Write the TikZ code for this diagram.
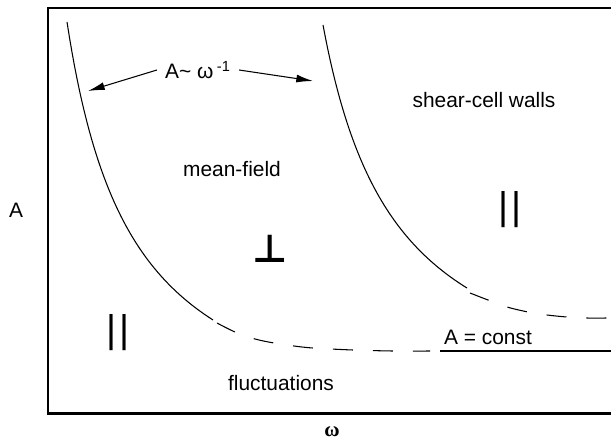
\documentclass[tikz,border=0pt]{standalone}
\usepackage{fontspec}
\setmainfont{Liberation Sans}
\newfontfamily\symfont{DejaVu Sans}
\newfontfamily\greekfont{Liberation Serif}
\usetikzlibrary{arrows.meta}

\begin{document}
\begin{tikzpicture}[
  x=0.02cm, y=-0.02cm,
  >={Latex[length=9.5pt,width=4.5pt]},
  annot/.style={font=\fontsize{11.9}{14}\selectfont,inner sep=0pt},
  orient/.style={font=\fontsize{22}{22}\selectfont,inner sep=0pt},
  frameline/.style={line width=1.7pt},
  curve/.style={line width=0.6pt},
  dashcurve/.style={line width=0.6pt,dash pattern=on 0.4cm off 0.4cm},
]

% page size of the reference
\useasboundingbox (0,0) rectangle (611,443);

% ---------------- frame (open on the right) ----------------
\draw[frameline] (611,8) -- (48,8) -- (48,413) -- (611,413);

% ---------------- axis labels ----------------
\node[annot] (Alab) at (16,210) {A};
\node[annot,font=\greekfont\bfseries\fontsize{11.9}{14}\selectfont] (omlab) at (332,432) {ω};

% ---------------- left boundary: A ~ 1/omega ----------------
\draw[curve,domain=67:213,samples=60,variable=\x]
  plot ({\x},{455.7-288.42/((\x-0.5)/100)});
\draw[dashcurve] plot[smooth] coordinates {
  (217,323) (235,332) (255,339) (274,343) (294,346) (313,348) (353,350) (393,351) (430,351)};

% ---------------- right boundary: shear-cell walls ----------------
\draw[curve,domain=323:467,samples=60,variable=\x]
  plot ({\x},{423.2-294.68/((\x-249)/100)});
\draw[dashcurve] plot[smooth] coordinates {
  (470,293) (488,300) (507,307) (528,312) (547,315) (567,317) (587,318) (607,318)};

% A = const
\draw[line width=1pt] (440,351) -- (611,351);
\node[annot] (constlab) at (488,337) {A = const};

% ---------------- regions ----------------
\node[annot] (meanfield) at (232,169) {mean-field};
\node[annot] (walls) at (484,100) {shear-cell walls};
\node[annot] (fluct) at (281,383) {fluctuations};

\node[orient,font=\symfont\bfseries\fontsize{22}{22}\selectfont] (perp) at (270,249) {⊥};
\node[orient] (parL) at (118,333) {|\hspace{1.7pt}|};
\node[orient] (parR) at (510,210) {|\hspace{1.7pt}|};

% ---------------- scaling law with arrows ----------------
\node[annot,inner xsep=4.5pt] (law) at (198,70) {A\textasciitilde\ ω\,\textsuperscript{-1}};
\coordinate (lawL) at (88,91);
\coordinate (lawR) at (313,81);
\draw[->,line width=0.6pt] (law.west) -- (lawL);
\draw[->,line width=0.6pt] (law.east) -- (lawR);

\end{tikzpicture}
\end{document}
